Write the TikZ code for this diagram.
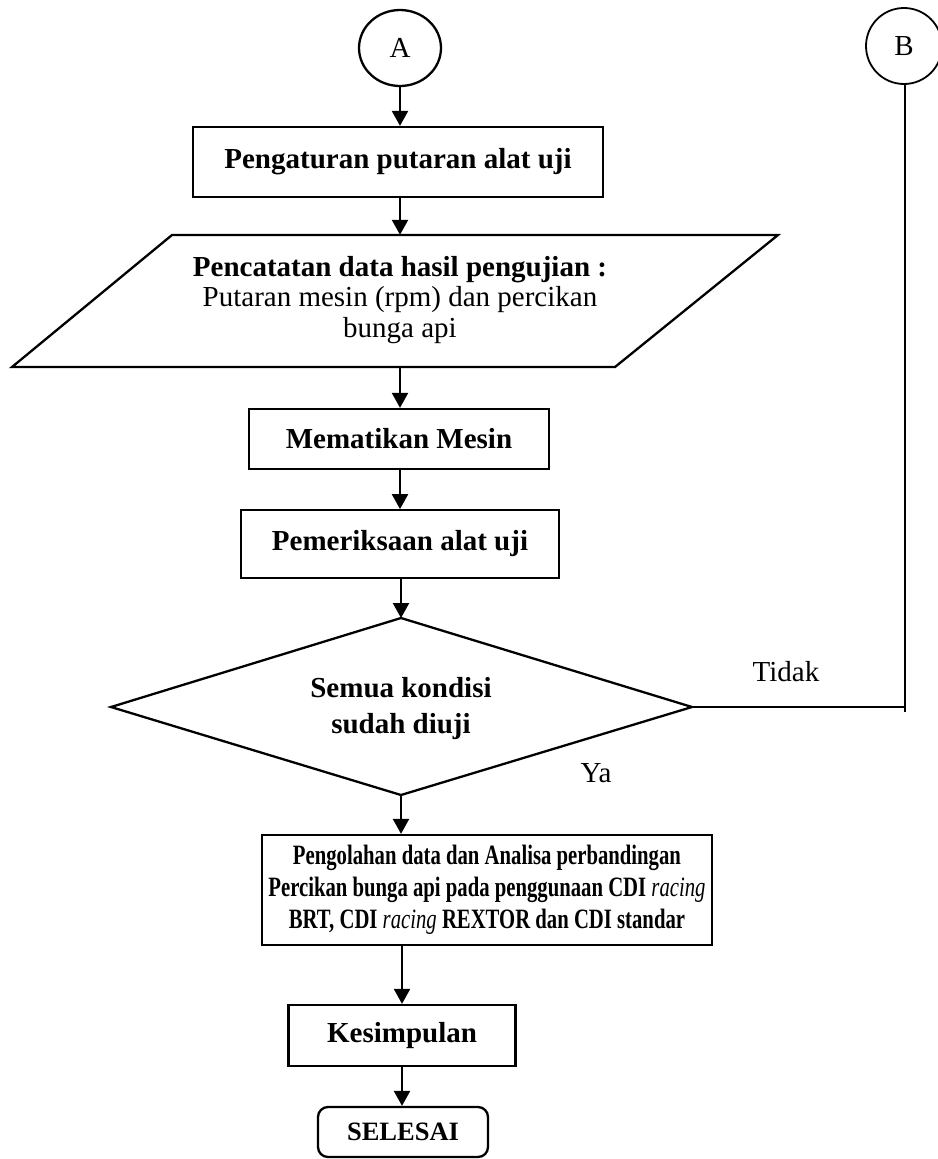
\documentclass[tikz,border=0pt]{standalone}
\usepackage{fontspec}
\setmainfont{Liberation Serif}
\usetikzlibrary{shapes.geometric,arrows.meta}
\begin{document}
\begin{tikzpicture}[x=1pt,y=-1pt,
  font=\fontsize{29}{32}\selectfont,
  flow/.style={line width=2.3pt,-{Triangle[width=16pt,length=15pt]}},
  procbox/.style={draw,line width=2.3pt,rectangle,inner sep=0pt,align=center},
  connector/.style={draw,ellipse,inner sep=0pt},
  thin/.style={line width=1.4pt}]
\useasboundingbox (0,0) rectangle (937,1159);

% connectors
\node[connector,line width=2.3pt,minimum width=82pt,minimum height=76pt] (A) at (400,48) {A};
\node[connector,line width=1.8pt,minimum width=76pt,minimum height=76pt] (B) at (904,46) {B};

% process steps
\node[procbox,minimum width=410pt,minimum height=70pt,font=\fontsize{29}{32}\selectfont\bfseries] (atur) at (398,162) {Pengaturan putaran alat uji};

% data record (parallelogram)
\draw[line width=2.3pt,line join=miter] (172,235) -- (778,235) -- (615,367) -- (12,367) -- cycle;
\node[inner sep=0pt,minimum width=400pt,minimum height=132pt,align=center] (catat) at (400,301) {};
\node[align=center,inner sep=0pt,font=\fontsize{29}{30.5}\selectfont] (catattext) at (400,300)
  {\textbf{Pencatatan data hasil pengujian :}\\Putaran mesin (rpm) dan percikan\\bunga api};

\node[procbox,minimum width=300pt,minimum height=60pt,font=\fontsize{29}{32}\selectfont\bfseries] (mati) at (399,439) {Mematikan Mesin};
\node[procbox,line width=1.8pt,minimum width=318pt,minimum height=68pt,font=\fontsize{29}{32}\selectfont\bfseries] (periksa) at (400,544) {Pemeriksaan alat uji};

% decision
\coordinate (cn) at (401,618);
\coordinate (cs) at (401,795);
\coordinate (cw) at (111,707);
\coordinate (ce) at (692,707);
\draw[line width=2.3pt,line join=miter] (cn) -- (ce) -- (cs) -- (cw) -- cycle;
\node[align=center,inner sep=0pt,font=\fontsize{29}{36}\selectfont\bfseries] (cek) at (401,709) {Semua kondisi\\sudah diuji};

% processing step: narrow-set bold lines
\node[procbox,minimum width=450pt,minimum height=110pt] (olah) at (487,890) {};
\node[inner sep=0pt,font=\fontsize{28}{32}\selectfont\bfseries] (olahtext) at (olah.center)
  {\scalebox{0.74}[1]{\begin{tabular}{@{}c@{}}Pengolahan data dan Analisa perbandingan\\Percikan bunga api pada penggunaan CDI \textit{\mdseries racing}\\BRT, CDI \textit{\mdseries racing} REXTOR dan CDI standar\end{tabular}}};

\node[procbox,minimum width=227pt,minimum height=61pt,font=\fontsize{29}{32}\selectfont\bfseries] (simpul) at (402,1035.5) {Kesimpulan};
\node[draw,line width=2.3pt,rounded corners=10pt,minimum width=170pt,minimum height=50pt,inner sep=0pt,
  font=\fontsize{26.5}{28}\selectfont\bfseries] (selesai) at (403,1132) {SELESAI};

% labels
\node (tidak) at (786,672) {Tidak};
\node (ya) at (596,773) {Ya};

% flow lines
\draw[flow] (A.south) -- (atur.north -| A.south);
\draw[flow] (atur.south -| A.south) -- (catat.north -| A.south);
\draw[flow] (catat.south -| A.south) -- (mati.north -| A.south);
\draw[flow] (mati.south -| A.south) -- (periksa.north -| A.south);
\draw[flow] (periksa.south -| cn) -- (cn);
\draw[flow] (cs) -- (olah.north -| cs);
\draw[flow] (olah.south -| simpul.north) -- (simpul.north);
\draw[flow] (simpul.south) -- (selesai.north -| simpul.south);

% return path to B
\coordinate (bend) at (905,712);
\draw[thin] (ce) -- (ce -| bend);
\draw[thin] (B.south -| bend) -- (bend);
\end{tikzpicture}
\end{document}
